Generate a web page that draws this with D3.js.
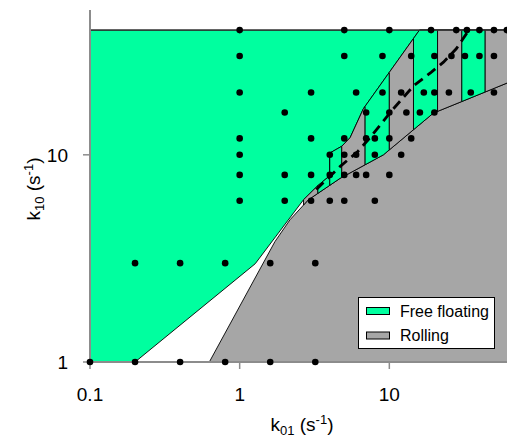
<!DOCTYPE html>
<meta charset="utf-8">
<html>
<head>
  <script src="https://d3js.org/d3.v7.min.js"></script>
  <style>
    body { margin: 0; background: white; font-family: "Liberation Sans", Arial, sans-serif; }
    svg { display: block; }
  </style>
</head>
<body>
  <svg width="507" height="439"></svg>
  <script>
    // tick values
    const xTicks = [0.1, 1, 10];
    const yTicks = [1, 10];

    // simulated points, one row per k10 value
    const rowK10 = [40, 30, 20, 16, 12, 10, 8, 6, 3, 1];
    const rowK01 = [
      [1, 5, 10, 19, 28, 33, 40, 50, 61],
      [1, 5, 9, 14, 20, 26, 32, 40, 50],
      [1, 3, 6, 9, 12, 17, 20, 25, 35, 50],
      [2, 7, 10, 13, 16, 20],
      [1, 3, 5, 7, 8, 10, 14],
      [1, 4, 5, 6, 8, 12],
      [1, 2, 3, 4, 5, 6, 7, 10],
      [1, 2, 3, 4, 5, 8],
      [0.2, 0.4, 0.8, 1.6, 3.2],
      [0.1, 0.2, 0.4, 0.8, 1.6, 3.2]
    ];

    // region boundaries [k01, k10]
    const freeEdge = [[0.2, 1], [1.27, 2.98], [2.67, 6.07], [3.33, 7.1], [4, 7.93], [4, 10.2],
                      [4.81, 11], [5.47, 12.1], [6.71, 16.7], [15.9, 40], [70, 40]];
    const rollEdge = [[0.627, 1], [1.72, 3.81], [2.17, 4.86], [2.88, 6.07], [4.69, 7.7],
                      [9.13, 10], [19.7, 15.9], [70, 23.1]];

    // columns of the transition band
    const bandCuts = [2.67, 3.33, 4.0, 4.81, 6.89, 10, 14.5, 21, 30.5, 43.7, 70];
    const bandState = ["Rolling", "Free floating", "Free floating", "Rolling", "Free floating",
                       "Rolling", "Free floating", "Rolling", "Free floating", "Rolling"];

    // dashed curve
    const dashK01 = [3.25, 4.7, 6.1, 7.5, 10.5, 14.5, 19, 23, 28, 34];
    const dashK10 = [6.8, 8.8, 10.3, 12.2, 16.5, 21.5, 25, 28, 32.5, 40];

    const legendItems = ["Free floating", "Rolling"];

    const svg = d3.select("svg");

    const x = d3.scaleLog().domain([0.1, 100]).range([90, 539]);
    const y = d3.scaleLog().domain([1, 50]).range([362, 10]);
    const color = d3.scaleOrdinal().domain(legendItems).range(["#00ff9f", "#a6a6a6"]);

    const line = d3.line().x(d => x(d[0])).y(d => y(d[1]));

    // piece of a polyline between xa and xb, interpolated in log space
    function clip(pts, xa, xb) {
      const out = [];
      for (let i = 0; i < pts.length - 1; i++) {
        const p = pts[i], q = pts[i + 1];
        if (Math.max(p[0], q[0]) < xa || Math.min(p[0], q[0]) > xb) continue;
        const f = v => {
          const t = (Math.log(v) - Math.log(p[0])) / (Math.log(q[0]) - Math.log(p[0]));
          return Math.exp(Math.log(p[1]) + t * (Math.log(q[1]) - Math.log(p[1])));
        };
        const a = p[0] < xa ? [xa, f(xa)] : p;
        const b = q[0] > xb ? [xb, f(xb)] : q;
        out.push(a, b);
      }
      return out;
    }

    const plot = svg.append("g");

    // rolling region
    const rollPoly = rollEdge.concat([[70, 1]]);
    plot.append("path")
      .attr("d", line(rollPoly) + "Z")
      .attr("fill", color("Rolling"))
      .attr("stroke", "black").attr("stroke-width", 0.9);

    // free floating region
    const freePoly = [[0.1, 1]].concat(freeEdge, [[0.1, 40]]);
    plot.append("path")
      .attr("d", line(freePoly) + "Z")
      .attr("fill", color("Free floating"))
      .attr("stroke", "black").attr("stroke-width", 0.9);

    // band columns
    bandState.forEach((s, i) => {
      const xa = bandCuts[i], xb = bandCuts[i + 1];
      const poly = clip(freeEdge, xa, xb).concat(clip(rollEdge, xa, xb).reverse());
      plot.append("path")
        .attr("d", line(poly) + "Z")
        .attr("fill", color(s))
        .attr("stroke", "black").attr("stroke-width", 0.9);
    });

    // top border
    plot.append("line")
      .attr("x1", x(0.1)).attr("x2", x(70))
      .attr("y1", y(40)).attr("y2", y(40))
      .attr("stroke", "#333").attr("stroke-width", 1.4);

    // axes
    const axisColor = "#8c8c8c";
    svg.append("line")
      .attr("x1", x(0.1)).attr("x2", 507).attr("y1", y(1)).attr("y2", y(1))
      .attr("stroke", axisColor).attr("stroke-width", 2);
    svg.append("line")
      .attr("x1", x(0.1)).attr("x2", x(0.1)).attr("y1", y(50)).attr("y2", y(1))
      .attr("stroke", axisColor).attr("stroke-width", 2);

    svg.selectAll(".xt").data(xTicks).enter().append("line")
      .attr("x1", d => x(d)).attr("x2", d => x(d))
      .attr("y1", y(1)).attr("y2", y(1) + 7)
      .attr("stroke", axisColor).attr("stroke-width", 1.5);
    svg.selectAll(".xl").data(xTicks).enter().append("text")
      .attr("x", d => x(d)).attr("y", 401)
      .attr("text-anchor", "middle")
      .style("font-size", "19px")
      .text(d => d);

    svg.selectAll(".yt").data(yTicks).enter().append("line")
      .attr("x1", x(0.1) - 7).attr("x2", x(0.1))
      .attr("y1", d => y(d)).attr("y2", d => y(d))
      .attr("stroke", axisColor).attr("stroke-width", 1.5);
    svg.selectAll(".yl").data(yTicks).enter().append("text")
      .attr("x", 68).attr("y", d => y(d) + 7)
      .attr("text-anchor", "end")
      .style("font-size", "19px")
      .text(d => d);

    // points
    const pts = [];
    rowK10.forEach((k10, i) => rowK01[i].forEach(k01 => pts.push([k01, k10])));
    svg.append("g").selectAll("circle")
      .data(pts).enter().append("circle")
      .attr("cx", d => x(d[0])).attr("cy", d => y(d[1]))
      .attr("r", 3.3).attr("fill", "black");

    // dashed curve
    svg.append("path")
      .attr("d", line(dashK01.map((v, i) => [v, dashK10[i]])))
      .attr("fill", "none").attr("stroke", "black")
      .attr("stroke-width", 2.8).attr("stroke-dasharray", "10,6");

    // axis titles
    const xt = svg.append("text")
      .attr("x", 302).attr("y", 431)
      .attr("text-anchor", "middle")
      .style("font-size", "19px");
    xt.append("tspan").text("k");
    xt.append("tspan").attr("dy", 3.5).style("font-size", "13px").text("01");
    xt.append("tspan").attr("dy", -3.5).text(" (s");
    xt.append("tspan").attr("dy", -7).style("font-size", "13px").text("-1");
    xt.append("tspan").attr("dy", 7).text(")");

    const yt = svg.append("text")
      .attr("transform", "translate(40,189) rotate(-90)")
      .attr("text-anchor", "middle")
      .style("font-size", "19px");
    yt.append("tspan").text("k");
    yt.append("tspan").attr("dy", 3.5).style("font-size", "13px").text("10");
    yt.append("tspan").attr("dy", -3.5).text(" (s");
    yt.append("tspan").attr("dy", -7).style("font-size", "13px").text("-1");
    yt.append("tspan").attr("dy", 7).text(")");

    // legend
    const lg = svg.append("g");
    lg.append("rect")
      .attr("x", 358.5).attr("y", 297.5).attr("width", 136).attr("height", 51)
      .attr("fill", "white").attr("stroke", "black").attr("stroke-width", 1);
    const item = lg.selectAll(".item").data(legendItems).enter().append("g")
      .attr("transform", (d, i) => `translate(0, ${i * 24.5})`);
    item.append("rect")
      .attr("x", 366.5).attr("y", 307.5).attr("width", 23).attr("height", 7)
      .attr("fill", d => color(d)).attr("stroke", "black").attr("stroke-width", 1);
    item.append("text")
      .attr("x", 400).attr("y", 316.5)
      .style("font-size", "16px")
      .text(d => d);
  </script>
</body>
</html>
